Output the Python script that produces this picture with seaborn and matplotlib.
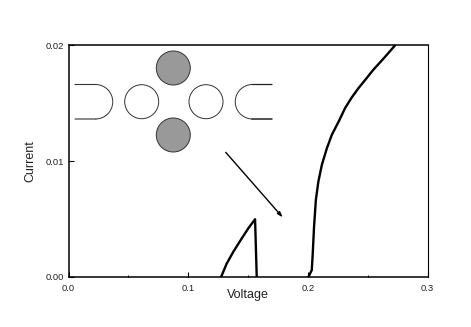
import matplotlib
matplotlib.use("Agg")
import matplotlib.pyplot as plt
from matplotlib.patches import Arc, Circle
import seaborn as sns

# lower branch
voltage_low = [0.1275, 0.1323, 0.1378, 0.1448, 0.1503, 0.1559, 0.1573]
current_low = [0.0, 0.00118, 0.00219, 0.00334, 0.00421, 0.00499, 0.0]

# upper branch
voltage_high = [0.2005, 0.2033, 0.2041, 0.2052, 0.2067, 0.2088, 0.2117, 0.2159, 0.22, 0.2264,
                0.231, 0.2365, 0.2422, 0.2485, 0.2547, 0.2635, 0.2728]
current_high = [0.0, 0.0006, 0.00204, 0.00435, 0.00665, 0.00824, 0.00968, 0.01112, 0.01227, 0.01356,
                0.01457, 0.01548, 0.0163, 0.0171, 0.0179, 0.0189, 0.02]

x_ticks = [0.0, 0.1, 0.2, 0.3]
x_labels = ["0.0", "0.1", "0.2", "0.3"]
x_minor = [0.05, 0.15, 0.25]
y_ticks = [0.0, 0.01, 0.02]
y_labels = ["0.00", "0.01", "0.02"]

arrow_start = (0.1314, 0.01077)
arrow_end = (0.179, 0.00515)

# device sketch, in figure pixels
gray_dots = [(173.3, 68), (173.3, 135)]
white_dots = [(141.7, 101.7), (206, 101.7)]
dot_r = 17

sns.set_style("ticks")
plt.rcParams["font.family"] = ["Liberation Sans", "DejaVu Sans"]

W, H = 471, 327
fig = plt.figure(figsize=(W / 100, H / 100), dpi=100)
ax = fig.add_axes([68.5 / W, 1 - 277 / H, 359 / W, 231.5 / H])

sns.lineplot(x=voltage_low, y=current_low, color="black", lw=1.7, sort=False, ax=ax)
sns.lineplot(x=voltage_high, y=current_high, color="black", lw=1.7, sort=False, ax=ax)

ax.set_xlim(0, 0.3)
ax.set_ylim(0, 0.02)
ax.set_xticks(x_ticks, x_labels)
ax.set_yticks(y_ticks, y_labels)
ax.set_xticks(x_minor, minor=True)
ax.tick_params(which="major", direction="in", length=3.5, width=0.8, labelsize=6.8, color="black", labelcolor="#222222")
ax.tick_params(axis="x", which="major", pad=5)
ax.tick_params(axis="y", which="major", pad=3.5)
ax.tick_params(which="minor", direction="in", length=1.8, width=0.8, color="black")
ax.set_xlabel("Voltage", fontsize=9, labelpad=-3, color="#222222")
ax.set_ylabel("Current", fontsize=9, labelpad=6.5, color="#222222")

for side in ["left", "bottom", "top"]:
    ax.spines[side].set_linewidth(1.1)
    ax.spines[side].set_color("black")
ax.spines["right"].set_linewidth(0.8)
ax.spines["right"].set_color("black")

ax.annotate("", xy=arrow_end, xytext=arrow_start,
            arrowprops=dict(arrowstyle="-|>,head_length=0.3,head_width=0.1", color="black", lw=1, shrinkA=0, shrinkB=0))

sketch = fig.add_axes([0, 0, 1, 1])
sketch.set_xlim(0, W)
sketch.set_ylim(H, 0)
sketch.axis("off")
sketch.patch.set_alpha(0)

for x, y in gray_dots:
    sketch.add_patch(Circle((x, y), dot_r, fc="#999999", ec="#333333", lw=0.7))
for x, y in white_dots:
    sketch.add_patch(Circle((x, y), dot_r, fc="white", ec="#333333", lw=0.7))

# leads either side
sketch.plot([75, 96], [84.5, 84.5], color="#333333", lw=0.8, snap=False)
sketch.plot([75, 96], [119, 119], color="#333333", lw=0.8, snap=False)
sketch.add_patch(Arc((95.5, 101.75), 34.5, 34.5, theta1=-90, theta2=90, ec="#333333", lw=0.7))
sketch.plot([252, 272], [84.5, 84.5], color="#222222", lw=0.9, snap=False)
sketch.plot([252, 272], [119, 119], color="#222222", lw=1.1, snap=False)
sketch.add_patch(Arc((252.5, 101.75), 34.5, 34.5, theta1=90, theta2=270, ec="#333333", lw=0.7))

fig.savefig("out.png", dpi=100)
